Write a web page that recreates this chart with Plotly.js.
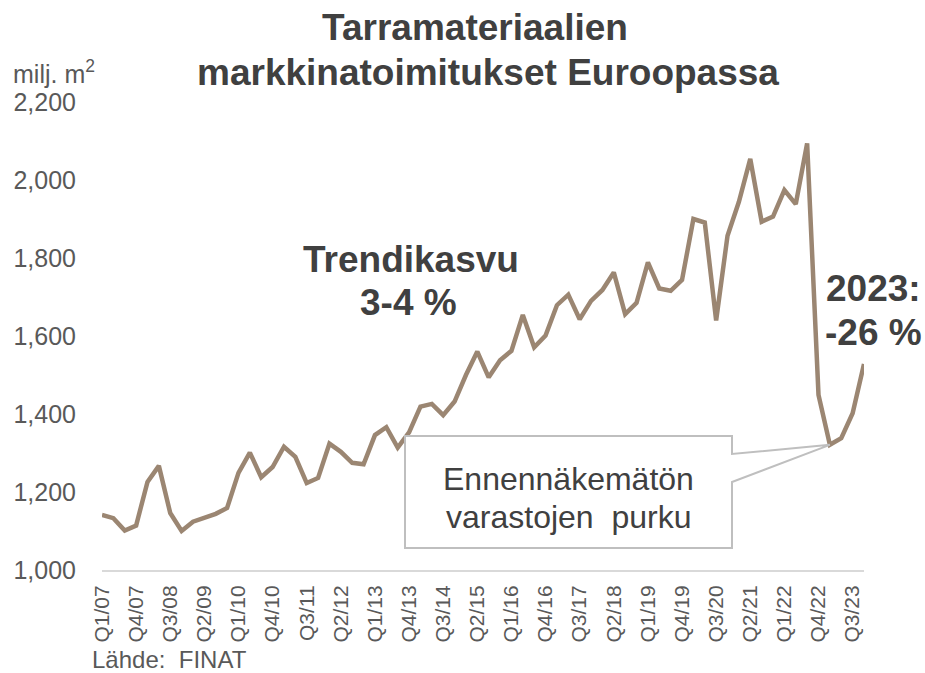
<!DOCTYPE html>
<html>
<head>
<meta charset="utf-8">
<script src="https://cdn.plot.ly/plotly-3.0.1.min.js"></script>
<style>html,body{margin:0;padding:0;background:#fff;}#chart{width:925px;height:673px;}</style>
</head>
<body>
<div id="chart"></div>
<script>
const quarters = [
  "Q1/07","Q2/07","Q3/07","Q4/07","Q1/08","Q2/08","Q3/08","Q4/08",
  "Q1/09","Q2/09","Q3/09","Q4/09","Q1/10","Q2/10","Q3/10","Q4/10",
  "Q1/11","Q2/11","Q3/11","Q4/11","Q1/12","Q2/12","Q3/12","Q4/12",
  "Q1/13","Q2/13","Q3/13","Q4/13","Q1/14","Q2/14","Q3/14","Q4/14",
  "Q1/15","Q2/15","Q3/15","Q4/15","Q1/16","Q2/16","Q3/16","Q4/16",
  "Q1/17","Q2/17","Q3/17","Q4/17","Q1/18","Q2/18","Q3/18","Q4/18",
  "Q1/19","Q2/19","Q3/19","Q4/19","Q1/20","Q2/20","Q3/20","Q4/20",
  "Q1/21","Q2/21","Q3/21","Q4/21","Q1/22","Q2/22","Q3/22","Q4/22",
  "Q1/23","Q2/23","Q3/23","Q4/23"
];
const deliveries = [
  1141,1133,1101,1114,1226,1267,1146,1100,1124,1133,
  1144,1159,1249,1301,1238,1264,1316,1290,1223,1236,
  1324,1303,1275,1271,1346,1366,1314,1353,1419,1426,
  1397,1432,1500,1560,1494,1538,1562,1654,1571,1601,
  1679,1706,1643,1690,1718,1763,1656,1685,1789,1722,
  1716,1744,1900,1891,1640,1857,1944,2054,1893,1906,
  1974,1938,2094,1449,1321,1338,1402,1528
];
const tickEvery = 3;
const yTicks = [1000,1200,1400,1600,1800,2000,2200];
const titleLines = ['Tarramateriaalien', 'markkinatoimitukset Euroopassa'];

const xIdx = quarters.map((q, i) => i);
const tickIdx = xIdx.filter(i => i % tickEvery === 0);
const tickText = tickIdx.map(i => quarters[i]);

// layout geometry (pixels)
const W = 925, H = 673, L = 102, R = 61, T = 102, B = 103;
const pw = W - L - R, ph = H - T - B;
const xMax = quarters.length - 1;
const yMin = 1000, yMax = 2200;
const px2x = px => (px - L) / pw * xMax;
const py2y = py => yMin + (H - B - py) / ph * (yMax - yMin);
const px2p = px => (px - L) / pw;
const py2p = py => (H - B - py) / ph;

const tipI = 64;
const tipX = xIdx[tipI], tipY = deliveries[tipI];
const bx0 = px2x(405), bx1 = px2x(732), by0 = py2y(436), by1 = py2y(548);
const wy0 = py2y(454), wy1 = py2y(482);
const calloutPath = `M ${bx0},${by0} L ${bx1},${by0} L ${bx1},${wy0} L ${tipX},${tipY} L ${bx1},${wy1} L ${bx1},${by1} L ${bx0},${by1} Z`;

const FONT = 'Arial, "Liberation Sans", sans-serif';
const dark = '#404040', grey = '#595959';

const trace = {
  x: xIdx, y: deliveries, type: 'scatter', mode: 'lines',
  line: {color: '#9b8672', width: 4.5, shape: 'linear'},
  hoverinfo: 'skip'
};

const layout = {
  width: W, height: H,
  margin: {l: L, r: R, t: T, b: B, pad: 0},
  paper_bgcolor: '#fff', plot_bgcolor: '#fff',
  showlegend: false,
  font: {family: FONT, color: grey},
  title: {
    text: '<b>' + titleLines[0] + '</b>',
    font: {family: FONT, size: 37, color: dark},
    x: 475 / W, xanchor: 'center', xref: 'container',
    y: 1 - 27 / H, yanchor: 'middle', yref: 'container'
  },
  xaxis: {
    range: [0, xMax], tickmode: 'array', tickvals: tickIdx, ticktext: tickText,
    tickangle: -90, tickfont: {family: FONT, size: 21, color: grey},
    showgrid: false, zeroline: false, showline: true, linecolor: '#d9d9d9', linewidth: 2,
    ticks: 'outside', ticklen: 5, tickcolor: 'rgba(0,0,0,0)', fixedrange: true
  },
  yaxis: {
    range: [yMin, yMax], tickmode: 'array', tickvals: yTicks, tickformat: ',',
    tickfont: {family: FONT, size: 25, color: grey},
    showgrid: false, zeroline: false, showline: false,
    ticks: 'outside', ticklen: 20, tickcolor: 'rgba(0,0,0,0)', fixedrange: true
  },
  shapes: [{
    type: 'path', xref: 'x', yref: 'y', path: calloutPath,
    fillcolor: '#ffffff', line: {color: '#bfbfbf', width: 2}, layer: 'above'
  }],
  annotations: [
    {xref: 'paper', yref: 'paper', x: px2p(488), y: py2p(72), xanchor: 'center', yanchor: 'middle',
     text: '<b>' + titleLines[1] + '</b>', showarrow: false, font: {family: FONT, size: 37, color: dark}},
    {xref: 'paper', yref: 'paper', x: px2p(11), y: py2p(72), xanchor: 'left', yanchor: 'middle',
     text: 'milj. m<sup>2</sup>', showarrow: false, font: {family: FONT, size: 25, color: grey}},
    {xref: 'paper', yref: 'paper', x: px2p(90), y: py2p(659), xanchor: 'left', yanchor: 'middle',
     text: 'Lähde:\u00a0 FINAT', showarrow: false, font: {family: FONT, size: 24, color: grey}},
    {xref: 'paper', yref: 'paper', x: px2p(411), y: py2p(259), xanchor: 'center', yanchor: 'middle',
     text: '<b>Trendikasvu</b>', showarrow: false, font: {family: FONT, size: 37, color: dark}},
    {xref: 'paper', yref: 'paper', x: px2p(408), y: py2p(302), xanchor: 'center', yanchor: 'middle',
     text: '<b>3-4 %</b>', showarrow: false, font: {family: FONT, size: 37, color: dark}},
    {xref: 'paper', yref: 'paper', x: px2p(874), y: py2p(288), xanchor: 'center', yanchor: 'middle',
     text: '<b>2023:</b>', showarrow: false, font: {family: FONT, size: 37, color: dark}},
    {xref: 'paper', yref: 'paper', x: px2p(873), y: py2p(332), xanchor: 'center', yanchor: 'middle',
     text: '<b>-26 %</b>', showarrow: false, font: {family: FONT, size: 37, color: dark}},
    {xref: 'paper', yref: 'paper', x: px2p(568), y: py2p(479), xanchor: 'center', yanchor: 'middle',
     text: 'Ennennäkemätön', showarrow: false, font: {family: FONT, size: 32, color: dark}},
    {xref: 'paper', yref: 'paper', x: px2p(568), y: py2p(517), xanchor: 'center', yanchor: 'middle',
     text: 'varastojen\u00a0 purku', showarrow: false, font: {family: FONT, size: 32, color: dark}}
  ]
};

Plotly.newPlot('chart', [trace], layout, {displayModeBar: false, staticPlot: true});
</script>
</body>
</html>
